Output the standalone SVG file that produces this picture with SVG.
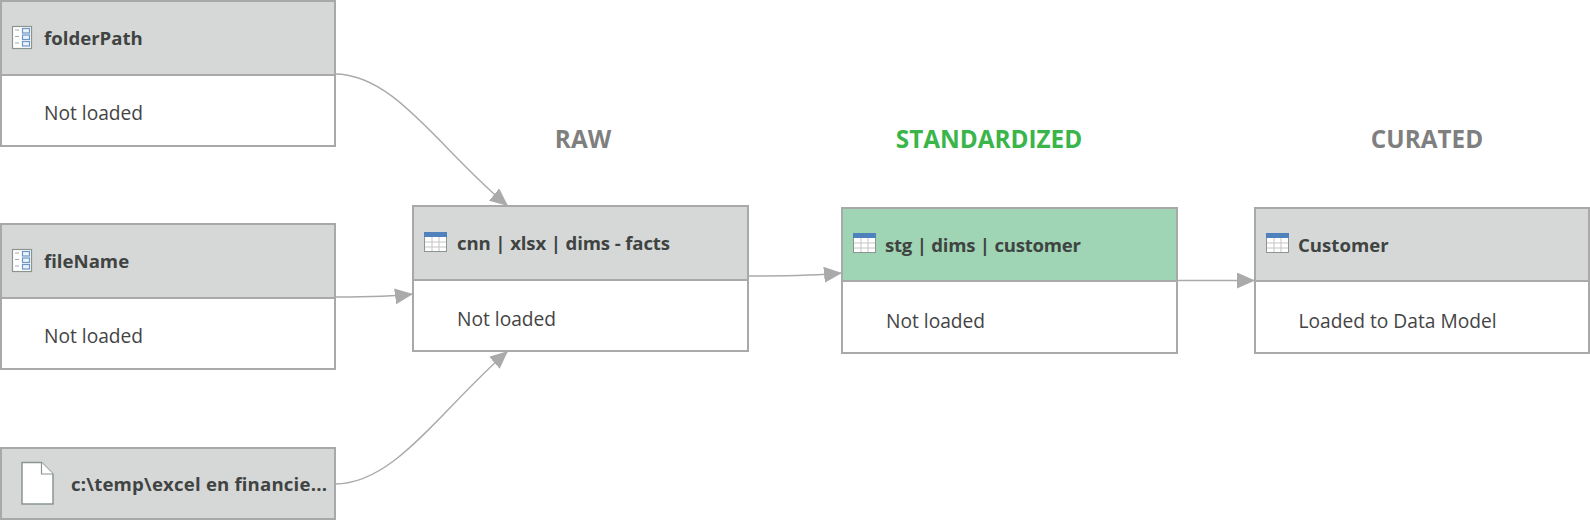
<svg xmlns="http://www.w3.org/2000/svg" width="1590" height="520" viewBox="0 0 1590 520">
<style>
text{font-family:"Open Sans","Noto Sans","Liberation Sans",sans-serif}
.hd{fill:#d6d8d7;stroke:#a9a9a9;stroke-width:2}
.gr{fill:#9fd5b5;stroke:#a9a9a9;stroke-width:2}
.bd{fill:#fff;stroke:#a9a9a9;stroke-width:2}
.t{font-size:18.6px;font-weight:700;fill:#3f4442}
.s{font-size:19.2px;fill:#444}
.l{font-size:24.3px;font-weight:700;fill:#7f7f7f;text-anchor:middle}
.c{fill:none;stroke:#aaa;stroke-width:1.4}
.tf{fill:#fff;stroke:#8a9590;stroke-width:1}
.tb{fill:#4f81bd}
.tl{stroke:#c4c4c4;stroke-width:1;fill:none}
.pb{fill:#eef3f9;stroke:#6a96c8;stroke-width:1.2}
.pl{stroke:#aaa;stroke-width:1.2}
</style>
<defs>
<marker id="a" markerUnits="userSpaceOnUse" markerWidth="19" markerHeight="16" refX="18" refY="8" orient="auto"><path d="M0 0L18 8L0 16Z" fill="#aaa"/></marker>
<g id="tbl"><rect class="tf" x="0.5" y="0.5" width="22" height="19"/><rect class="tb" x="0" y="0" width="23" height="5"/><path class="tl" d="M1 10H22M1 15H22M8 5V19M15 5V19"/></g>
<g id="par"><rect class="tf" x="0.5" y="0.5" width="19" height="22" style="stroke-width:1.2"/><path class="pl" d="M3 4H7M3 10.500H7M3 17H7"/><rect class="pb" x="10.500" y="2.500" width="7" height="4.500"/><rect class="pb" x="10.500" y="9" width="7" height="4.500"/><rect class="pb" x="10.500" y="15.500" width="7" height="4.500"/></g>
</defs>
<g id="connectors">
<path class="c" marker-end="url(#a)" d="M335 74C395 74 440 150 508 206"/>
<path class="c" marker-end="url(#a)" d="M335 297C365 297 390 297 413 294"/>
<path class="c" marker-end="url(#a)" d="M335 484C395 484 440 410 508 351"/>
<path class="c" marker-end="url(#a)" d="M748 276C780 276 810 276 842 273"/>
<path class="c" marker-end="url(#a)" d="M1177 280.500H1255"/>
</g>
<g id="label-raw"><text class="l" x="583" y="148">RAW</text></g>
<g id="label-standardized"><text class="l" x="989" y="148" style="fill:#39b54a">STANDARDIZED</text></g>
<g id="label-curated"><text class="l" x="1427" y="148">CURATED</text></g>
<g id="node-folderPath">
<rect class="hd" x="1" y="1" width="334" height="74"/><rect class="bd" x="1" y="75" width="334" height="71"/>
<use href="#par" x="12" y="26"/>
<text class="t" x="44" y="44.500">folderPath</text><text class="s" x="44" y="119.700">Not loaded</text>
</g>
<g id="node-fileName">
<rect class="hd" x="1" y="224" width="334" height="74"/><rect class="bd" x="1" y="298" width="334" height="71"/>
<use href="#par" x="12" y="249"/>
<text class="t" x="44" y="267.500">fileName</text><text class="s" x="44" y="342.700">Not loaded</text>
</g>
<g id="node-source">
<rect class="hd" x="1" y="448" width="334" height="71"/>
<path d="M22 462.500H41.500L53 474V504H22Z" fill="#fff" stroke="#8a9590" stroke-width="1.500"/><path d="M41.500 462.500V474H53" fill="#fff" stroke="#8a9590" stroke-width="1.200"/>
<text class="t" x="71" y="491" textLength="256">c:\temp\excel en financie...</text>
</g>
<g id="node-cnn">
<rect class="hd" x="413" y="206" width="335" height="74"/><rect class="bd" x="413" y="280" width="335" height="71"/>
<use href="#tbl" x="424" y="232"/>
<text class="t" x="457" y="250" textLength="213">cnn | xlsx | dims - facts</text><text class="s" x="457" y="325.700">Not loaded</text>
</g>
<g id="node-stg">
<rect class="gr" x="842" y="208" width="335" height="73"/><rect class="bd" x="842" y="281" width="335" height="72"/>
<use href="#tbl" x="853" y="233"/>
<text class="t" x="885" y="252" textLength="196">stg | dims | customer</text><text class="s" x="886" y="327.700">Not loaded</text>
</g>
<g id="node-customer">
<rect class="hd" x="1255" y="208" width="334" height="73"/><rect class="bd" x="1255" y="281" width="334" height="72"/>
<use href="#tbl" x="1266" y="233"/>
<text class="t" x="1298" y="252">Customer</text><text class="s" x="1298.500" y="327.700">Loaded to Data Model</text>
</g>
</svg>
